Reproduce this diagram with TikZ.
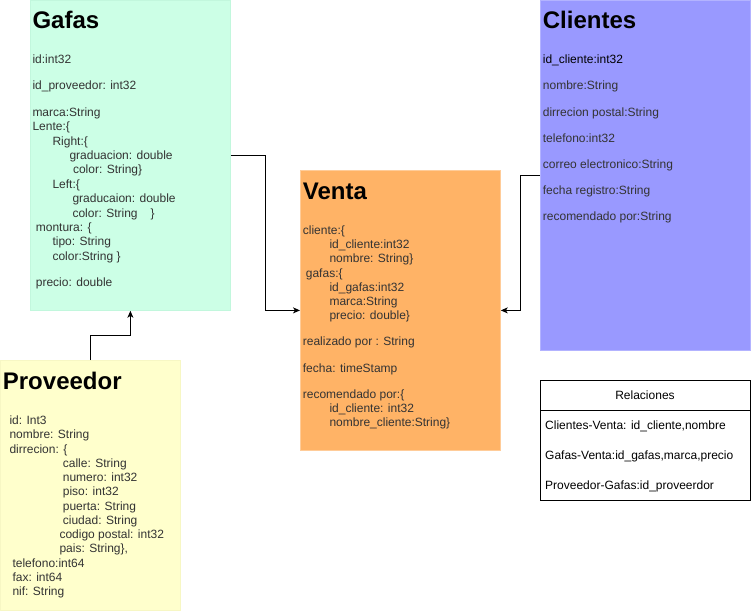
\documentclass[tikz,border=0pt]{standalone}
\usepackage{fontspec}
\setmainfont{Liberation Sans}
\usetikzlibrary{positioning,arrows.meta}

\definecolor{gafasfill}{HTML}{CCFFE6}
\definecolor{gafasline}{HTML}{C2F7DD}
\definecolor{ventafill}{HTML}{FFB366}
\definecolor{ventaline}{HTML}{FFCC99}
\definecolor{clientesfill}{HTML}{9999FF}
\definecolor{clientesline}{HTML}{B3B3FF}
\definecolor{provfill}{HTML}{FFFFCC}
\definecolor{provline}{HTML}{F7F7C4}
\definecolor{textogris}{HTML}{333333}

\tikzset {
    tabla/.style={
        rectangle, % Set the shape as a rectangle
        anchor=north west,
        inner sep=0pt,
        line width=0.8pt,
    },
    titulo/.style={
        font=\fontsize{24}{28}\selectfont\bfseries,
        anchor=base west,
        inner sep=0pt,
    },
    campos/.style={
        font=\fontsize{12}{14.4}\selectfont,
        text=textogris,
        align=left,
        anchor=north west,
        inner sep=0pt,
    },
    fila/.style={
        font=\fontsize{12}{14.4}\selectfont,
        anchor=base west,
        inner sep=0pt,
    },
    flecha/.style={
        draw=black,
        line width=1pt,
        -{Stealth[length=7pt,width=6pt,inset=2pt]},
    },
}

\begin{document}
\begin{tikzpicture}[x=1pt, y=-1pt]
\useasboundingbox (0,0) rectangle (751,613);

% tablas
\node[tabla, fill=gafasfill, draw=gafasline, minimum width=200pt, minimum height=310pt] at (30,0) (gafas) {};
\node[tabla, fill=ventafill, draw=ventaline, minimum width=200pt, minimum height=280pt] at (300,170) (venta) {};
\node[tabla, fill=clientesfill, draw=clientesline, minimum width=210pt, minimum height=350pt] at (540,0) (clientes) {};
\node[tabla, fill=provfill, draw=provline, minimum width=180pt, minimum height=250pt] at (0,360) (proveedor) {};
\node[tabla, draw=black, minimum width=210pt, minimum height=120pt] at (540,380) (relaciones) {};
\draw[line width=0.8pt] ([yshift=-30pt]relaciones.north west) -- ([yshift=-30pt]relaciones.north east);

% titulos
\node[titulo] at (32.3,28.5) (tgafas) {Gafas};
\node[titulo] at (302.7,199) (tventa) {Venta};
\node[titulo] at (542.7,28.5) (tclientes) {Clientes};
\node[titulo] at (2.7,389) (tproveedor) {Proveedor};

% campos
\node[campos] at (32.3,54.6) (cgafas) {id:int32\\[12pt]
id\_proveedor: int32\\[12pt]
marca:String\\
Lente:\{\\
\hspace*{20pt}Right:\{\\
\hspace*{37pt}graduacion: double\\
\hspace*{40.5pt}color: String\}\\
\hspace*{20pt}Left:\{\\
\hspace*{40pt}graducaion: double\\
\hspace*{40pt}color: String\hspace*{13pt}\}\\
\hspace*{3.4pt}montura: \{\\
\hspace*{20pt}tipo: String\\
\hspace*{20pt}color:String \}\\[12pt]
\hspace*{3.4pt}precio: double};

\node[campos, font=\fontsize{12}{14.2}\selectfont] at (302.7,225.6) (cventa) {cliente:\{\\
\hspace*{26.6pt}id\_cliente:int32\\
\hspace*{26.6pt}nombre: String\}\\
\hspace*{3pt}gafas:\{\\
\hspace*{26.6pt}id\_gafas:int32\\
\hspace*{26.6pt}marca:String\\
\hspace*{26.6pt}precio: double\}\\[12pt]
realizado por : String\\[12pt]
fecha: timeStamp\\[12pt]
recomendado por:\{\\
\hspace*{26.6pt}id\_cliente: int32\\
\hspace*{26.6pt}nombre\_cliente:String\}};

\node[campos] at (542.7,54.9) (cclientes) {\textcolor{black}{id\_cliente:int32}\\[11.8pt]
nombre:String\\[11.8pt]
dirrecion postal:String\\[11.8pt]
telefono:int32\\[11.8pt]
correo electronico:String\\[11.8pt]
fecha registro:String\\[11.8pt]
recomendado por:String};

\node[campos, font=\fontsize{12}{14.25}\selectfont] at (9.3,415.6) (cproveedor) {id: Int3\\
nombre: String\\
dirrecion: \{\\
\hspace*{53.4pt}calle: String\\
\hspace*{53.4pt}numero: int32\\
\hspace*{53.4pt}piso: int32\\
\hspace*{53.4pt}puerta: String\\
\hspace*{53.4pt}ciudad: String\\
\hspace*{50pt}codigo postal: int32\\
\hspace*{50pt}pais: String\},\\
\hspace*{3pt}telefono:int64\\
\hspace*{3pt}fax: int64\\
\hspace*{3pt}nif: String};

% relaciones
\node[fila, anchor=base] at (645,399.3) (trelaciones) {Relaciones};
\node[fila] at (545,429.5) (rclientes) {Clientes-Venta: id\_cliente,nombre};
\node[fila] at (545,459.7) (rgafas) {Gafas-Venta:id\_gafas,marca,precio};
\node[fila] at (545,489.5) (rproveedor) {Proveedor-Gafas:id\_proveerdor};

% flechas
\draw[flecha] (gafas.east) -- ++(35,0) |- (venta.west);
\draw[flecha] (clientes.west) -- ++(-20,0) |- (venta.east);
\draw[flecha] (proveedor.north) -- ++(0,-25) -| (gafas.south);
\end{tikzpicture}
\end{document}
